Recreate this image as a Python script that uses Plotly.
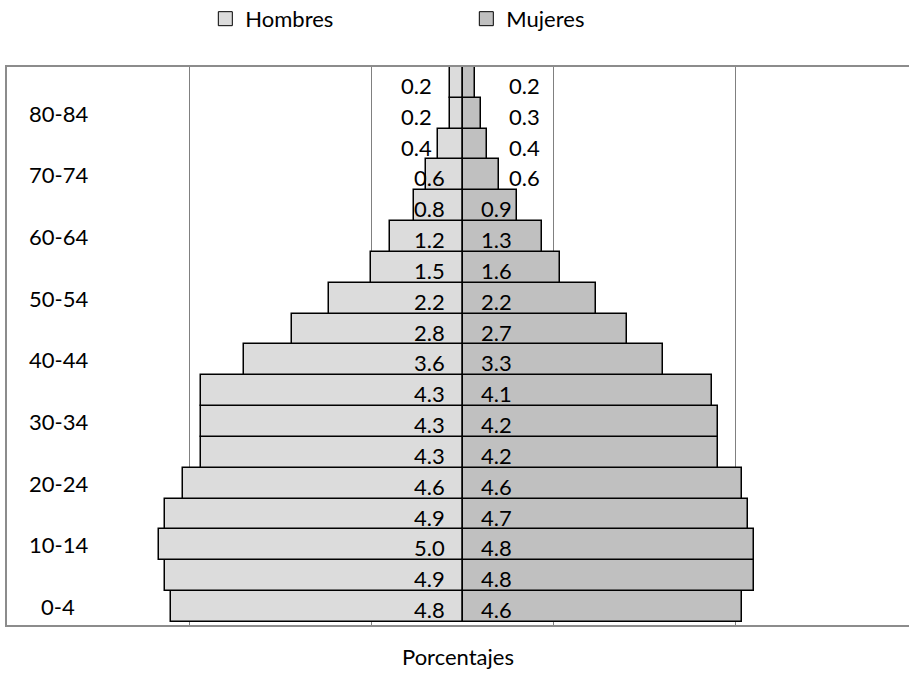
import plotly.graph_objects as go

age_groups = ["0-4", "5-9", "10-14", "15-19", "20-24", "25-29", "30-34", "35-39",
              "40-44", "45-49", "50-54", "55-59", "60-64", "65-69", "70-74", "75-79",
              "80-84", "85+"]
tick_labels = ["0-4", "10-14", "20-24", "30-34", "40-44", "50-54", "60-64", "70-74", "80-84"]
hombres = [4.8, 4.9, 5.0, 4.9, 4.6, 4.3, 4.3, 4.3, 3.6, 2.8, 2.2, 1.5, 1.2, 0.8, 0.6, 0.4, 0.2, 0.2]
mujeres = [4.6, 4.8, 4.8, 4.7, 4.6, 4.2, 4.2, 4.1, 3.3, 2.7, 2.2, 1.6, 1.3, 0.9, 0.6, 0.4, 0.3, 0.2]
grid_vals = [-4.5, -1.5, 1.5, 4.5]

FONT = "Lato"
FS = 22
C_H = "#dcdcdc"
C_M = "#c0c0c0"

fig = go.Figure()
fig.add_trace(go.Bar(
    y=age_groups, x=[-v for v in hombres], orientation="h", name="Hombres",
    marker=dict(color=C_H, line=dict(color="#000000", width=1.5)),
    hoverinfo="skip", showlegend=False))
fig.add_trace(go.Bar(
    y=age_groups, x=mujeres, orientation="h", name="Mujeres",
    marker=dict(color=C_M, line=dict(color="#000000", width=1.5)),
    hoverinfo="skip", showlegend=False))
# legend entries (square swatches)
for name, col in [("Hombres", C_H), ("Mujeres", C_M)]:
    fig.add_trace(go.Scatter(
        x=[None], y=[None], mode="markers", name=name,
        marker=dict(symbol="square", size=14, color=col,
                    line=dict(color="#000000", width=1)),
        hoverinfo="skip", showlegend=True))

annotations = []
for cat, h, m in zip(age_groups, hombres, mujeres):
    annotations.append(dict(x=0, y=cat, xref="x", yref="y", text=f"{h:.1f}",
                            showarrow=False, xanchor="right",
                            xshift=-29 if h < 0.5 else -16, yshift=-3,
                            font=dict(family=FONT, size=FS, color="#000000")))
    annotations.append(dict(x=0, y=cat, xref="x", yref="y", text=f"{m:.1f}",
                            showarrow=False, xanchor="left",
                            xshift=44 if m < 0.7 else 16, yshift=-3,
                            font=dict(family=FONT, size=FS, color="#000000")))
for lab in tick_labels:
    annotations.append(dict(x=0.057, y=lab, xref="paper", yref="y", text=lab,
                            showarrow=False, xanchor="center",
                            font=dict(family=FONT, size=FS, color="#000000")))

fig.update_layout(
    width=909, height=674,
    margin=dict(l=7, r=0, t=67, b=49, autoexpand=False),
    paper_bgcolor="#ffffff", plot_bgcolor="#ffffff",
    barmode="relative", bargap=0,
    font=dict(family=FONT, size=FS, color="#000000"),
    showlegend=True,
    legend=dict(orientation="h", x=0.513, xanchor="center", y=0.972, yanchor="middle",
                yref="container", xref="container", entrywidth=216,
                font=dict(family=FONT, size=FS), traceorder="normal"),
    annotations=annotations,
)
fig.update_xaxes(range=[-7.5, 7.35], tickvals=grid_vals, showticklabels=False,
                 showgrid=True, gridcolor="#808080", gridwidth=1, zeroline=False,
                 showline=True, linecolor="#8c8c8c", linewidth=2, mirror=True,
                 ticks="", title=dict(text="Porcentajes", standoff=24,
                                      font=dict(family=FONT, size=FS)),
                 fixedrange=True)
fig.update_yaxes(showticklabels=False, showgrid=False, zeroline=False,
                 showline=True, linecolor="#8c8c8c", linewidth=2, mirror=False,
                 ticks="", categoryorder="array", categoryarray=age_groups,
                 fixedrange=True)

fig.write_html("out.html", config={"displayModeBar": False},
               post_script="document.body.style.margin='0';")
